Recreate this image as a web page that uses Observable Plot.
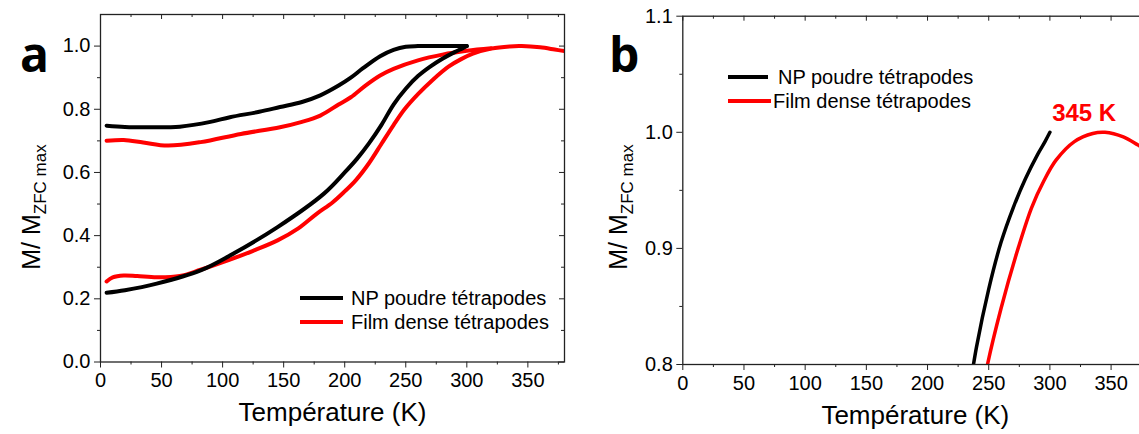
<!DOCTYPE html>
<html><head><meta charset="utf-8">
<script src="https://cdn.jsdelivr.net/npm/d3@7"></script>
<script src="https://cdn.jsdelivr.net/npm/@observablehq/plot@0.6"></script>
<style>
html,body{margin:0;padding:0;background:#fff;overflow:hidden;width:1139px;height:434px;}
#wrap{position:relative;width:1139px;height:434px;overflow:hidden;font-family:"Liberation Sans",Arial,sans-serif;color:#000;}
.panel{position:absolute;top:0;}
.lg{position:absolute;font-size:20px;white-space:nowrap;line-height:22px;}
.lg .sw{display:inline-block;vertical-align:middle;height:4px;}
.tag{position:absolute;font-family:"Open Sans","Liberation Sans",sans-serif;font-weight:700;font-size:48px;line-height:1;}
</style></head><body><div id="wrap"></div>
<script>
// ---- data ----
const seriesNames = ["NP poudre tétrapodes", "Film dense tétrapodes"];
const seriesColors = ["#000000", "#ff0000"];

const npZfcT = [5, 20, 46, 82, 106, 145, 183, 200, 210, 220, 230, 240, 250, 260, 270, 280, 290, 296, 300];
const npZfcM = [0.219, 0.227, 0.248, 0.29, 0.337, 0.427, 0.533, 0.60, 0.643, 0.693, 0.75, 0.815, 0.865, 0.905, 0.935, 0.96, 0.981, 0.992, 1.0];

const npFcT = [5, 20, 40, 65, 90, 106, 130, 147, 165, 180, 195, 205, 215, 229, 240, 250, 260, 280, 300];
const npFcM = [0.748, 0.744, 0.743, 0.745, 0.76, 0.775, 0.792, 0.807, 0.823, 0.844, 0.875, 0.90, 0.93, 0.968, 0.988, 0.998, 1.0, 1.0, 1.0];

const filmZfcT = [5, 10, 19, 30, 46, 65, 82, 106, 125, 145, 162, 177, 190, 200, 209, 220, 230, 240, 249, 260, 272, 285, 295, 305, 320, 335, 345, 360, 372, 380];
const filmZfcM = [0.255, 0.268, 0.274, 0.272, 0.268, 0.272, 0.292, 0.324, 0.352, 0.385, 0.423, 0.469, 0.505, 0.54, 0.575, 0.63, 0.69, 0.75, 0.80, 0.848, 0.893, 0.935, 0.958, 0.976, 0.992, 0.999, 1.0, 0.996, 0.989, 0.984];

const filmFcT = [5, 19, 35, 55, 82, 115, 147, 165, 180, 195, 205, 217, 229, 240, 260, 280, 300, 320];
const filmFcM = [0.70, 0.703, 0.695, 0.685, 0.696, 0.722, 0.743, 0.76, 0.78, 0.815, 0.838, 0.875, 0.907, 0.928, 0.955, 0.973, 0.985, 0.993];

const xMajor = [0, 50, 100, 150, 200, 250, 300, 350];
const xMinor = [25, 75, 125, 175, 225, 275, 325, 375];
const yMajorA = [0.0, 0.2, 0.4, 0.6, 0.8, 1.0];
const yMinorA = [0.1, 0.3, 0.5, 0.7, 0.9];
const yMajorB = [0.8, 0.9, 1.0, 1.1];
const yMinorB = [0.85, 0.95, 1.05];
const xLabel = "Température (K)";
const peakLabel = "345 K";

// ---- helpers ----
const FONT = '"Liberation Sans", Arial, sans-serif';
const H = 434;
const rows = (T, M) => T.map((t, i) => ({T: t, M: M[i]}));

function panel({W, ml, mr, mt, mb, yDomain, yMajor, yMinor, curves, sw, extra = []}) {
  const plotW = W - ml - mr, plotH = H - mt - mb;
  return Plot.plot({
    width: W, height: H,
    marginLeft: ml, marginRight: mr, marginTop: mt, marginBottom: mb,
    x: {domain: [0, 380]},
    y: {domain: yDomain},
    style: {fontFamily: FONT, fontSize: "20px", color: "#000", background: "transparent", overflow: "visible"},
    marks: [
      ...curves.map(c => Plot.line(rows(c.T, c.M), {x: "T", y: "M", stroke: c.color, strokeWidth: sw, curve: "catmull-rom", clip: true})),
      Plot.frame({stroke: "#222", strokeWidth: 1.3}),
      Plot.axisX({ticks: xMajor, tickSize: 6, tickPadding: 5, tickFormat: d => String(d), label: null, stroke: "#222"}),
      Plot.axisX({ticks: xMinor, tickSize: 3, tickFormat: () => "", label: null, stroke: "#222"}),
      Plot.axisY({ticks: yMajor, tickSize: 6, tickPadding: 4, tickFormat: d3.format(".1f"), label: null, stroke: "#222"}),
      Plot.axisY({ticks: yMinor, tickSize: 3, tickFormat: () => "", label: null, stroke: "#222"}),
      Plot.tickX(xMajor, {x: d => d, insetBottom: plotH - 5, stroke: "#222"}),
      Plot.tickX(xMinor, {x: d => d, insetBottom: plotH - 3, stroke: "#222"}),
      Plot.tickY(yMajor, {y: d => d, insetLeft: plotW - 5, stroke: "#222"}),
      Plot.tickY(yMinor, {y: d => d, insetLeft: plotW - 3, stroke: "#222"}),
      Plot.text([xLabel], {text: d => d, frameAnchor: "bottom", dy: 59, fontSize: 26}),
      ...extra
    ]
  });
}

function addYLabel(svg, x, y) {
  const t = d3.select(svg).append("text")
    .attr("transform", `translate(${x},${y}) rotate(-90)`)
    .attr("text-anchor", "middle")
    .attr("font-family", FONT)
    .attr("fill", "#000");
  t.append("tspan").attr("font-size", 25).text("M/ M");
  t.append("tspan").attr("font-size", 17).attr("dy", 6).text("ZFC max");
}

const wrap = document.getElementById("wrap");

// ---- panel a ----
const svgA = panel({
  W: 580, ml: 100, mr: 16, mt: 14, mb: 72.5,
  yDomain: [0, 1.1], yMajor: yMajorA, yMinor: yMinorA, sw: 4,
  curves: [
    {T: filmFcT, M: filmFcM, color: seriesColors[1]},
    {T: filmZfcT, M: filmZfcM, color: seriesColors[1]},
    {T: npFcT, M: npFcM, color: seriesColors[0]},
    {T: npZfcT, M: npZfcM, color: seriesColors[0]}
  ]
});
svgA.classList.add("panel");
svgA.style.left = "0px";
addYLabel(svgA, 40, 207);
wrap.appendChild(svgA);

// ---- panel b ----
const offB = 570;
const svgB = panel({
  W: 590, ml: 112.3, mr: 12.7, mt: 15.7, mb: 70,
  yDomain: [0.8, 1.1], yMajor: yMajorB, yMinor: yMinorB, sw: 3.5,
  curves: [
    {T: filmZfcT, M: filmZfcM, color: seriesColors[1]},
    {T: npZfcT, M: npZfcM, color: seriesColors[0]}
  ],
  extra: [
    Plot.text([peakLabel], {text: d => d, x: 328, y: 1.016, fill: seriesColors[1], fontSize: 24, fontWeight: "bold"})
  ]
});
svgB.classList.add("panel");
svgB.style.left = offB + "px";
addYLabel(svgB, 627 - offB, 207);
wrap.appendChild(svgB);

// ---- legends and panel tags ----
function legend(items, left, top, gap, lineW, textGap) {
  items.forEach((it, i) => {
    const d = document.createElement("div");
    d.className = "lg";
    d.style.left = left + "px";
    d.style.top = (top + i * gap - 11) + "px";
    d.innerHTML = `<span class="sw" style="width:${lineW[i]}px;background:${it.color}"></span><span style="margin-left:${textGap[i]}px;vertical-align:middle">${it.name}</span>`;
    wrap.appendChild(d);
  });
}
const legItems = seriesNames.map((n, i) => ({name: n, color: seriesColors[i]}));
legend(legItems, 300, 296, 24.5, [43, 43], [8, 8]);
legend(legItems, 728, 75, 24.5, [40, 43], [10, 2]);

[["a", 20, 30], ["b", 609, 30]].forEach(([s, x, y]) => {
  const d = document.createElement("div");
  d.className = "tag";
  d.textContent = s;
  d.style.left = x + "px";
  d.style.top = y + "px";
  wrap.appendChild(d);
});
</script></body></html>
